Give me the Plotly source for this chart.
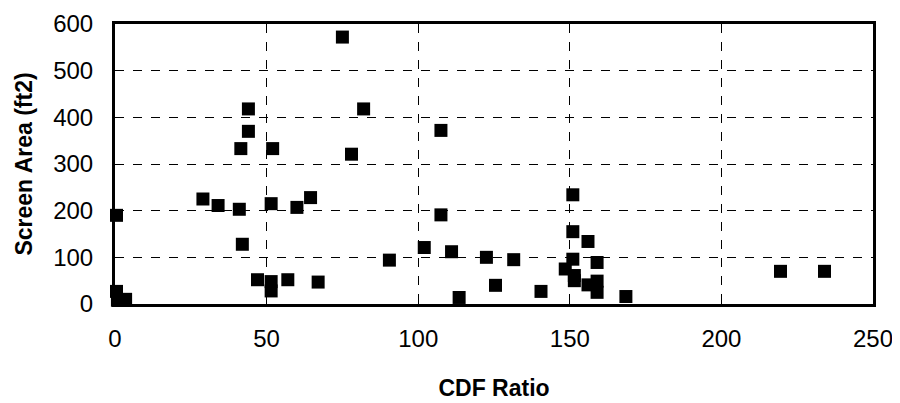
import plotly.graph_objects as go

# CDF Ratio (x) and Screen Area in ft2 (y)
cdf_ratio = [0.5, 0.5, 0.8, 3.5,
             29, 34, 41, 42, 41.5, 44, 44, 47, 51.5, 51.5, 51.5, 52, 57,
             60, 64.5, 67, 75, 78, 82, 90.5, 102, 107.5, 107.5, 111, 113.5,
             122.5, 125.5, 131.5, 140.5, 148.5, 151, 151, 151, 151.5, 151.5,
             156, 156, 159, 159, 159, 168.5, 219.5, 234]
screen_area = [190, 27, 8, 10,
               225, 211, 203, 128, 333, 418, 370, 52, 48, 28, 215, 333, 52,
               207, 228, 47, 572, 321, 418, 94, 121, 372, 191, 112, 14,
               100, 40, 95, 27, 75, 234, 155, 96, 61, 50,
               134, 41, 89, 49, 25, 16, 70, 70]

x_ticks = [0, 50, 100, 150, 200, 250]
y_ticks = [0, 100, 200, 300, 400, 500, 600]

fig = go.Figure()
fig.add_trace(go.Scatter(
    x=cdf_ratio, y=screen_area, mode="markers",
    marker=dict(symbol="square", size=13, color="black", line=dict(width=0)),
    showlegend=False, cliponaxis=False,
))

axis_common = dict(
    showline=True, linecolor="black", linewidth=3, mirror=True,
    showgrid=True, gridcolor="black", gridwidth=1, griddash="dash",
    zeroline=False, ticks="inside", ticklen=5, tickcolor="black",
    automargin=False, ticklabeloverflow="allow",
    tickfont=dict(family="Liberation Sans, Arial, sans-serif", size=24, color="black"),
)

fig.update_xaxes(
    range=[0, 250], tickvals=x_ticks, ticklabelstandoff=11,
    title=dict(text="<b>CDF Ratio</b>", standoff=30,
               font=dict(family="Liberation Sans, Arial, sans-serif", size=23, color="black")),
    **axis_common,
)
fig.update_yaxes(
    range=[0, 600], tickvals=y_ticks, ticklabelstandoff=14,
    title=dict(text="<b>Screen Area (ft2)</b>", standoff=15,
               font=dict(family="Liberation Sans, Arial, sans-serif", size=23, color="black")),
    **axis_common,
)

# the page body has an 8 px margin, so the figure is sized to fit the window
fig.update_layout(
    width=892, height=395,
    margin=dict(l=107, r=27, t=16, b=99),
    plot_bgcolor="white", paper_bgcolor="white",
)

fig.write_html("out.html")
